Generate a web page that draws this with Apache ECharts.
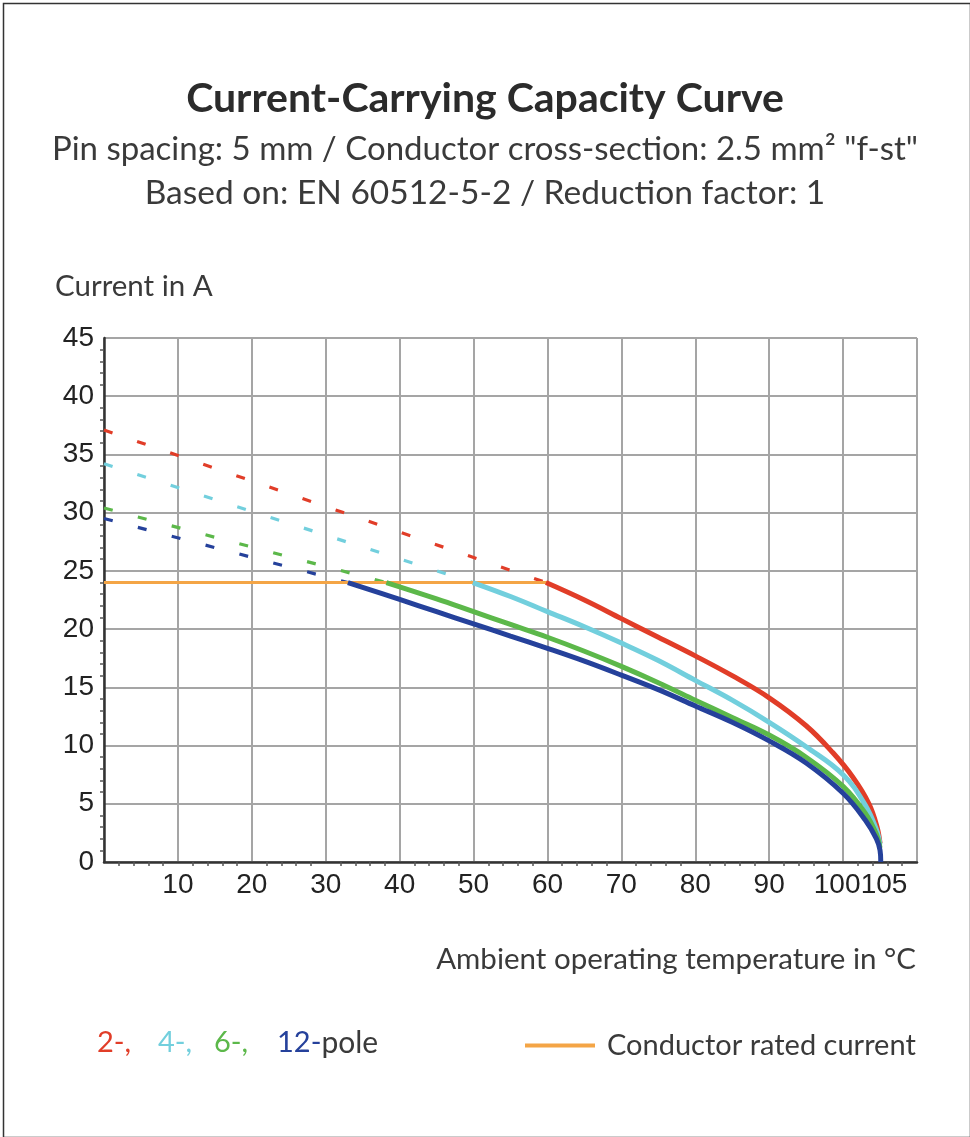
<!DOCTYPE html>
<html>
<head>
<meta charset="utf-8">
<script src="https://cdn.jsdelivr.net/npm/echarts@6/dist/echarts.min.js"></script>
<style>
html,body{margin:0;padding:0;background:#fff;}
#chart{width:970px;height:1137px;}
</style>
</head>
<body>
<div id="chart"></div>
<script>
// ---- data ----
var titleText = 'Current-Carrying Capacity Curve';
var subtitle1 = 'Pin spacing: 5 mm / Conductor cross-section: 2.5 mm\u00B2 "f-st"';
var subtitle2 = 'Based on: EN 60512-5-2 / Reduction factor: 1';
var yAxisName = 'Current in A';
var xAxisName = 'Ambient operating temperature in \u00B0C';
var xTickLabels = [10, 20, 30, 40, 50, 60, 70, 80, 90, 100, 105];

// solid (derated) curves: [temperature, current]
var pole2 = [[59.8,24],[65,22.5],[70,20.9],[75,19.3],[80,17.7],[85,16.0],[90,14.1],[95,11.7],[98.6,9.4],[101.3,7.3],[103.5,5.0],[104.6,3.0],[105,1.6]];
var pole4 = [[49.9,24],[55,22.8],[60,21.5],[65,20.2],[70,18.8],[75,17.3],[80,15.6],[85,13.9],[90,12.0],[95,9.9],[100,7.5],[103,4.9],[104.5,2.8],[105,1.5]];
var pole6 = [[38.2,24],[45,22.6],[50,21.5],[55,20.4],[60,19.3],[65,18.1],[70,16.8],[75,15.4],[80,13.9],[85,12.4],[90,10.9],[95,9.0],[100,6.5],[103,4.2],[104.5,2.4],[105,1.2]];
var pole12 = [[33,24],[40,22.55],[45,21.5],[50,20.45],[55,19.4],[60,18.35],[65,17.25],[70,16.05],[75,14.8],[80,13.4],[85,12.0],[90,10.4],[95,8.5],[100,5.9],[103,3.6],[104.5,2.0],[105,1.0],[105.1,0]];

// dashed extrapolations
var pole2Ext = [[0,37.1],[59.8,24]];
var pole4Ext = [[0,34.2],[49.9,24]];
var pole6Ext = [[0,30.4],[38.2,24]];
var pole12Ext = [[0,29.5],[33,24]];

// conductor rated current
var ratedCurrent = [[0,24],[60,24]];

var colors = {red:'#e13d28', cyan:'#72cfdd', green:'#5cb84a', blue:'#25419b', orange:'#f4a546'};
var textFont = 'Lato, "Open Sans", sans-serif';
var tickFont = '"Liberation Sans", Arial, sans-serif';

function solid(name, data, color){
  return {name:name, type:'line', data:data, showSymbol:false, smooth:0.4,
    lineStyle:{color:color, width:5}, itemStyle:{color:color}, z:4};
}
function dashed(name, data, color){
  return {name:name, type:'line', data:data, showSymbol:false,
    lineStyle:{color:color, width:3.2, type:[9,26]}, itemStyle:{color:color}, z:2};
}

var chart = echarts.init(document.getElementById('chart'));
chart.setOption({
  backgroundColor:'#ffffff',
  animation:false,
  title:[
    {text:titleText, left:'center', top:73, textStyle:{fontFamily:textFont, fontSize:41, fontWeight:'bold', color:'#2b2b2b'}},
    {text:subtitle1, left:'center', top:128, textStyle:{fontFamily:textFont, fontSize:33, fontWeight:'normal', color:'#3a3a3a'}},
    {text:subtitle2, left:'center', top:171, textStyle:{fontFamily:textFont, fontSize:33.5, fontWeight:'normal', color:'#3a3a3a'}}
  ],
  grid:{left:104, right:53, top:338, bottom:275},
  legend:{
    data:['Conductor rated current'], left:525, top:1031, padding:0, icon:'rect', itemWidth:70, itemHeight:4, itemGap:12,
    textStyle:{fontFamily:textFont, fontSize:29, color:'#3a3a3a', padding:[0,0,0,7]}
  },
  xAxis:{
    type:'value', min:0, max:110, interval:10,
    name:xAxisName, nameLocation:'end', nameGap:-1,
    nameTextStyle:{fontFamily:textFont, fontSize:29.5, color:'#3a3a3a', align:'right', verticalAlign:'top', padding:[82,0,0,0]},
    axisLine:{show:true, lineStyle:{color:'#333', width:2.5}},
    axisTick:{show:false},
    minorTick:{show:true, splitNumber:5, length:4, lineStyle:{color:'#555', width:1.5}},
    splitLine:{show:true, lineStyle:{color:'#a5a5a5', width:2}},
    axisLabel:{customValues:xTickLabels, hideOverlap:false, fontFamily:tickFont, fontSize:28, color:'#222', margin:9,
      formatter:function(v){ if(v===100) return '{a|100}'; if(v===105) return '{b|105}'; return String(v); },
      rich:{
        a:{fontFamily:tickFont, fontSize:28, color:'#222', padding:[0,12,0,0]},
        b:{fontFamily:tickFont, fontSize:28, color:'#222', padding:[0,0,0,8]}
      }
    }
  },
  yAxis:{
    type:'value', min:0, max:45, interval:5,
    axisLine:{show:true, lineStyle:{color:'#333', width:2.5}},
    axisTick:{show:false},
    minorTick:{show:true, splitNumber:5, length:4, lineStyle:{color:'#555', width:1.5}},
    splitLine:{show:true, lineStyle:{color:'#a5a5a5', width:2}},
    axisLabel:{fontFamily:tickFont, fontSize:28, color:'#222', margin:10}
  },
  graphic:[
    {type:'rect', left:1, top:1, shape:{width:967, height:1134}, style:{fill:'none', stroke:'#333', lineWidth:1.5}, silent:true},
    {type:'text', left:55, top:271, style:{text:yAxisName, fontFamily:textFont, fontSize:29.5, fill:'#3a3a3a'}},
    {type:'text', left:97, top:1028, style:{
      text:'{r|2-,}{c|4-,}{g|6-,}{b|12-}{k|pole}',
      rich:{
        r:{fill:colors.red, fontFamily:textFont, fontSize:29, width:61},
        c:{fill:colors.cyan, fontFamily:textFont, fontSize:29, width:56},
        g:{fill:colors.green, fontFamily:textFont, fontSize:29, width:63},
        b:{fill:colors.blue, fontFamily:textFont, fontSize:29},
        k:{fill:'#3a3a3a', fontFamily:textFont, fontSize:30}
      }
    }}
  ],
  series:[
    dashed('2-pole extrapolated', pole2Ext, colors.red),
    dashed('4-pole extrapolated', pole4Ext, colors.cyan),
    dashed('6-pole extrapolated', pole6Ext, colors.green),
    dashed('12-pole extrapolated', pole12Ext, colors.blue),
    {name:'Conductor rated current', type:'line', data:ratedCurrent, showSymbol:false,
      lineStyle:{color:colors.orange, width:3}, itemStyle:{color:colors.orange}, z:3},
    solid('2-pole', pole2, colors.red),
    solid('4-pole', pole4, colors.cyan),
    solid('6-pole', pole6, colors.green),
    solid('12-pole', pole12, colors.blue)
  ]
});
</script>
</body>
</html>
